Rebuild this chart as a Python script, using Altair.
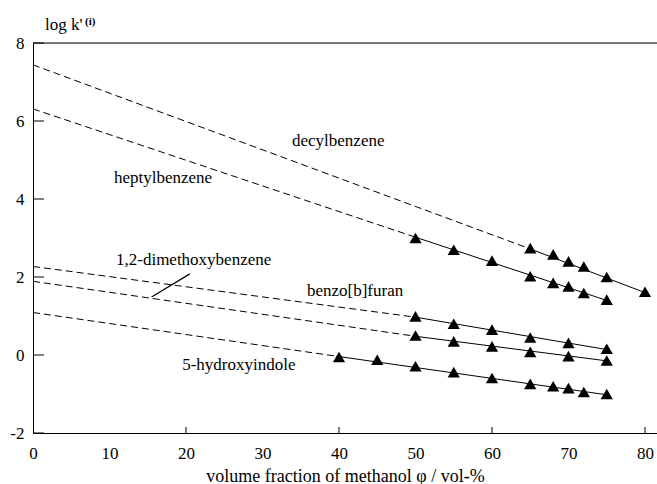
import altair as alt
import pandas as pd

FONT = "Liberation Serif, Times New Roman, serif"

# ---- measured points (triangles) ----
decyl_x = [65, 68, 70, 72, 75, 80]
decyl_y = [2.74, 2.58, 2.40, 2.27, 2.00, 1.62]
heptyl_x = [50, 55, 60, 65, 68, 70, 72, 75]
heptyl_y = [3.00, 2.70, 2.42, 2.02, 1.85, 1.76, 1.59, 1.42]
benzofuran_x = [50, 55, 60, 65, 70, 75]
benzofuran_y = [0.99, 0.80, 0.65, 0.45, 0.31, 0.16]
dimethoxy_x = [50, 55, 60, 65, 70, 75]
dimethoxy_y = [0.50, 0.35, 0.22, 0.08, -0.03, -0.14]
hydroxy_x = [40, 45, 50, 55, 60, 65, 68, 70, 72, 75]
hydroxy_y = [-0.05, -0.12, -0.29, -0.44, -0.59, -0.74, -0.80, -0.85, -0.95, -1.00]

# ---- fitted lines: value at phi=0, at first and last measured phi ----
names = ["decylbenzene", "heptylbenzene", "benzo[b]furan",
         "1,2-dimethoxybenzene", "5-hydroxyindole"]
line_y0 = [7.44, 6.31, 2.27, 1.89, 1.09]
first_x = [65, 50, 50, 50, 40]
first_y = [2.72, 3.02, 0.97, 0.48, -0.04]
last_x = [80, 75, 75, 75, 75]
last_y = [1.60, 1.40, 0.14, -0.15, -1.02]

# ---- annotation positions (data units) ----
label_x = [39.9, 17.0, 42.1, 21.0, 26.9]
label_y = [5.48, 4.54, 1.63, 2.43, -0.25]
leader_x = [20.5, 15.5]
leader_y = [2.08, 1.49]

# ---- axes ----
x_label_values = [0, 10, 20, 30, 40, 50, 60, 70, 80]
x_tick_values = [20, 40, 60, 80]
y_tick_values = [-2, 0, 2, 4, 6, 8]

W, H = 624, 390
xscale = alt.Scale(domain=[0, 81.57], nice=False, zero=False)
yscale = alt.Scale(domain=[-2, 8], nice=False, zero=False)

pts = pd.DataFrame({
    "x": decyl_x + heptyl_x + benzofuran_x + dimethoxy_x + hydroxy_x,
    "y": decyl_y + heptyl_y + benzofuran_y + dimethoxy_y + hydroxy_y,
})

dash_rows, solid_rows = [], []
for n, y0, fx, fy, lx, ly in zip(names, line_y0, first_x, first_y, last_x, last_y):
    dash_rows += [{"c": n, "x": 0, "y": y0}, {"c": n, "x": fx, "y": fy}]
    solid_rows += [{"c": n, "x": fx, "y": fy}, {"c": n, "x": lx, "y": ly}]
dash_df = pd.DataFrame(dash_rows)
solid_df = pd.DataFrame(solid_rows)

xaxis = alt.Axis(values=x_label_values, title="volume fraction of methanol \u03c6 / vol-%",
                 ticks=False, tickSize=0, labelPadding=12, grid=False,
                 labelFont=FONT, labelFontSize=17, titleFont=FONT, titleFontSize=18,
                 titleFontWeight="normal", titlePadding=6, domainColor="black",
                 labelColor="black", titleColor="black", labelFlush=False,
                 labelExpr="'' + datum.value")
yaxis = alt.Axis(values=y_tick_values, title=None, ticks=False, tickSize=0,
                 labelPadding=9, grid=False, labelFont=FONT, labelFontSize=17,
                 domainColor="black", labelColor="black", labelFlush=False,
                 labelExpr="'' + datum.value")

dashed = alt.Chart(dash_df).mark_line(color="black", strokeWidth=1, strokeDash=[7, 4]).encode(
    x=alt.X("x:Q", scale=xscale, axis=xaxis),
    y=alt.Y("y:Q", scale=yscale, axis=yaxis),
    detail="c:N",
)
solid = alt.Chart(solid_df).mark_line(color="black", strokeWidth=1).encode(
    x=alt.X("x:Q", scale=xscale), y=alt.Y("y:Q", scale=yscale), detail="c:N")

points = alt.Chart(pts).mark_point(shape="triangle-up", filled=True, color="black",
                                   size=150, opacity=1).encode(
    x=alt.X("x:Q", scale=xscale), y=alt.Y("y:Q", scale=yscale))

labels = alt.Chart(pd.DataFrame({"t": names, "x": label_x, "y": label_y})).mark_text(
    font=FONT, fontSize=17, color="black", align="center", baseline="middle").encode(
    x=alt.X("x:Q", scale=xscale), y=alt.Y("y:Q", scale=yscale), text="t:N")

leader = alt.Chart(pd.DataFrame({"x": leader_x, "y": leader_y})).mark_line(
    color="black", strokeWidth=1.2).encode(
    x=alt.X("x:Q", scale=xscale), y=alt.Y("y:Q", scale=yscale))

xticks = alt.Chart(pd.DataFrame({"v": x_tick_values})).mark_rule(color="black").encode(
    x=alt.X("v:Q", scale=xscale), y=alt.value(H), y2=alt.value(H - 6))
yticks = alt.Chart(pd.DataFrame({"v": y_tick_values})).mark_rule(color="black").encode(
    y=alt.Y("v:Q", scale=yscale), x=alt.value(0), x2=alt.value(11))
top = alt.Chart(pd.DataFrame({"v": [0]})).mark_rule(color="black", strokeWidth=1.2).encode(
    y=alt.value(0), x=alt.value(0), x2=alt.value(W))

ytitle = alt.Chart(pd.DataFrame({"t": ["log k'"]})).mark_text(
    font=FONT, fontSize=17, color="black", align="left", baseline="alphabetic").encode(
    x=alt.value(12), y=alt.value(-13), text="t:N")
ysup = alt.Chart(pd.DataFrame({"t": ["(i)"]})).mark_text(
    font=FONT, fontSize=11, fontWeight="bold", color="black", align="left",
    baseline="alphabetic").encode(x=alt.value(52), y=alt.value(-18), text="t:N")

chart = alt.layer(dashed, solid, leader, points, labels, xticks, yticks, top, ytitle, ysup).properties(
    width=W, height=H,
    autosize=alt.AutoSizeParams(type="none"),
    padding={"left": 33, "top": 43, "right": 0, "bottom": 51},
).configure_view(stroke=None).configure(background="white")

chart.save("out.html", embed_options={"renderer": "svg", "actions": False})
